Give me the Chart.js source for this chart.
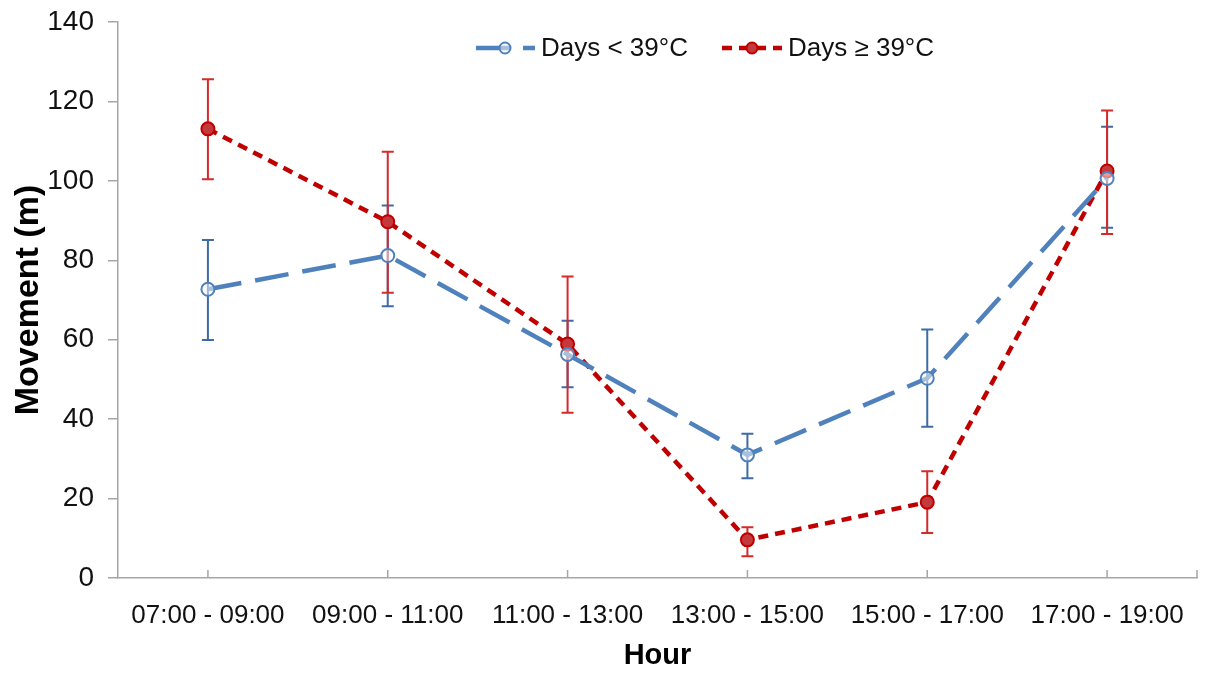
<!DOCTYPE html>
<html>
<head>
<meta charset="utf-8">
<script src="https://cdn.jsdelivr.net/npm/chart.js@4/dist/chart.umd.min.js"></script>
<style>
  html, body { margin: 0; padding: 0; background: #fff; }
  #wrap { width: 1207px; height: 679px; position: relative; }
</style>
</head>
<body>
<div id="wrap"><canvas id="chart"></canvas></div>
<script>
const hours = ['07:00 - 09:00', '09:00 - 11:00', '11:00 - 13:00', '13:00 - 15:00', '15:00 - 17:00', '17:00 - 19:00'];

const coolMean  = [72.7, 81.2, 56.3, 31.0, 50.3, 100.6];
const coolUpper = [85.1, 93.8, 64.8, 36.3, 62.6, 113.6];
const coolLower = [59.9, 68.4, 48.0, 25.1, 38.1, 88.2];

const hotMean  = [113.1, 89.7, 58.9, 9.6, 19.1, 102.5];
const hotUpper = [125.6, 107.3, 75.9, 12.8, 26.9, 117.7];
const hotLower = [100.4, 71.8, 41.6, 5.5, 11.3, 86.6];

const yTicks = [0, 20, 40, 60, 80, 100, 120, 140];

const blue = '#4f81bd';
const blueBar = '#3f6aa6';
const red = '#c00000';
const redBar = '#d42a2a';
const redFill = '#c4393b';
const axisGray = '#a6a6a6';
const textCol = '#111';
const font = "'Liberation Sans', Arial, sans-serif";

const coolDash = [34, 14];
const hotDash = [10, 7];

// error bars under the lines, blue first then red
const errorBars = {
  id: 'errorBars',
  beforeDatasetsDraw(chart) {
    const { ctx, scales: { x, y } } = chart;
    const sets = [[coolUpper, coolLower, blueBar], [hotUpper, hotLower, redBar]];
    ctx.save();
    ctx.lineWidth = 2;
    sets.forEach(([up, lo, col]) => {
      ctx.strokeStyle = col;
      hours.forEach((h, i) => {
        const px = x.getPixelForValue(i);
        const top = y.getPixelForValue(up[i]);
        const bot = y.getPixelForValue(lo[i]);
        ctx.beginPath();
        ctx.moveTo(px, top); ctx.lineTo(px, bot);
        ctx.moveTo(px - 6, top); ctx.lineTo(px + 6, top);
        ctx.moveTo(px - 6, bot); ctx.lineTo(px + 6, bot);
        ctx.stroke();
      });
    });
    ctx.restore();
  },
  afterDraw(chart) {
    const { ctx, chartArea: ca, scales: { x } } = chart;
    ctx.save();
    // small inward ticks on the category axis
    ctx.strokeStyle = axisGray;
    ctx.lineWidth = 1.5;
    ctx.beginPath();
    hours.forEach((h, i) => {
      const px = x.getPixelForValue(i);
      ctx.moveTo(px, ca.bottom - 1); ctx.lineTo(px, ca.bottom - 8);
    });
    ctx.moveTo(ca.right, ca.bottom - 1); ctx.lineTo(ca.right, ca.bottom - 8);
    ctx.stroke();

    // legend
    const ly = ca.top + 26;
    const drawItem = (x0, x1, mx, dash, col, fill, label) => {
      ctx.setLineDash(dash);
      ctx.strokeStyle = col;
      ctx.lineWidth = 4.5;
      ctx.beginPath(); ctx.moveTo(x0, ly); ctx.lineTo(x1, ly); ctx.stroke();
      ctx.setLineDash([]);
      ctx.lineWidth = 2;
      ctx.fillStyle = fill;
      ctx.beginPath(); ctx.arc(mx, ly, 5.5, 0, Math.PI * 2); ctx.fill(); ctx.stroke();
      ctx.fillStyle = textCol;
      ctx.font = '26px ' + font;
      ctx.textBaseline = 'middle';
      ctx.fillText(label, x1 + 6, ly + 1);
    };
    const lx = ca.left + 358;
    drawItem(lx, lx + 59, lx + 29, [34, 13], blue, 'rgba(255,255,255,0.5)', 'Days < 39°C');
    drawItem(lx + 246, lx + 306, lx + 276, hotDash, red, redFill, 'Days ≥ 39°C');
    ctx.restore();
  }
};

new Chart(document.getElementById('chart'), {
  type: 'line',
  data: {
    labels: hours,
    datasets: [
      {
        label: 'Days < 39°C',
        data: coolMean,
        borderColor: blue,
        borderWidth: 4.5,
        borderDash: coolDash,
        pointRadius: 6.5,
        pointBorderWidth: 2,
        pointBorderColor: blue,
        pointBackgroundColor: 'rgba(255,255,255,0.5)',
        tension: 0
      },
      {
        label: 'Days ≥ 39°C',
        data: hotMean,
        borderColor: red,
        borderWidth: 4.5,
        borderDash: hotDash,
        pointRadius: 6.5,
        pointBorderWidth: 2,
        pointBorderColor: red,
        pointBackgroundColor: redFill,
        tension: 0
      }
    ]
  },
  options: {
    responsive: true,
    maintainAspectRatio: false,
    animation: false,
    layout: { padding: { left: 0, right: 10, top: 22, bottom: 0 } },
    plugins: {
      legend: { display: false },
      tooltip: { enabled: false }
    },
    scales: {
      x: {
        offset: true,
        afterFit: s => { s.height = 101; },
        grid: { display: false },
        border: { color: axisGray, width: 1.5 },
        ticks: { color: textCol, padding: 14, font: { family: font, size: 26 }, maxRotation: 0, autoSkip: false },
        title: { display: true, text: 'Hour', color: '#000', font: { family: font, size: 29, weight: 'bold' }, padding: { top: 0, bottom: 6 } }
      },
      y: {
        min: 0,
        max: 140,
        afterFit: s => { s.width = 118; s.paddingTop = 0; s.paddingBottom = 0; },
        afterBuildTicks: s => { s.ticks = yTicks.map(v => ({ value: v })); },
        grid: { display: true, drawOnChartArea: false, drawTicks: true, tickLength: 10, color: axisGray, lineWidth: 1.5 },
        border: { color: axisGray, width: 1.5 },
        ticks: { color: textCol, padding: 14, font: { family: font, size: 28 } },
        title: { display: true, text: 'Movement (m)', color: '#000', font: { family: font, size: 34, weight: 'bold' }, padding: { top: 8, bottom: 0 } }
      }
    }
  },
  plugins: [errorBars]
});
</script>
</body>
</html>
